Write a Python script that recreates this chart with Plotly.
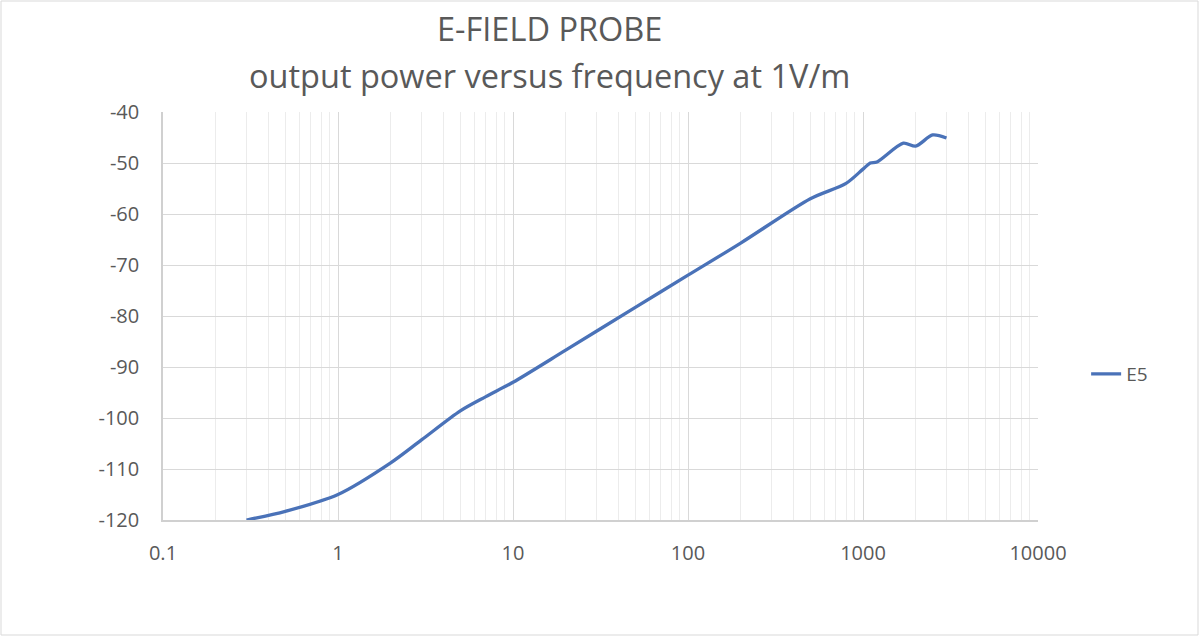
import plotly.graph_objects as go

freq = [0.3, 0.5, 1, 2, 3, 5, 7, 10, 20, 50, 100, 200, 500, 800, 1000, 1100, 1200, 1700, 2000, 2500, 3000]
power = [-120, -118.3, -115, -108.8, -104.3, -98.6, -95.8, -93, -86.7, -78.3, -72, -65.7, -57, -54, -51.2, -50, -49.8, -46.1, -46.7, -44.5, -45.1]

x_ticks = [0.1, 1, 10, 100, 1000, 10000]
x_labels = ["0.1", "1", "10", "100", "1000", "10000"]
y_ticks = [-120, -110, -100, -90, -80, -70, -60, -50, -40]
y_labels = ["-120", "-110", "-100", "-90", "-80", "-70", "-60", "-50", "-40"]

fig = go.Figure()
fig.add_trace(go.Scatter(
    x=freq, y=power, mode="lines", name="E5",
    line=dict(color="#4a72b8", width=3.3, shape="spline", smoothing=0.8),
))

font = "Open Sans, Lato, sans-serif"
grey = "#595959"
fig.update_layout(
    width=1200, height=636,
    margin=dict(l=163, r=162, t=112, b=116),
    paper_bgcolor="white", plot_bgcolor="white",
    showlegend=True,
    legend=dict(x=1.055, y=0.358, xanchor="left", yanchor="middle",
                font=dict(family=font, size=19, color=grey),
                bgcolor="rgba(0,0,0,0)"),
    xaxis=dict(
        type="log", range=[-1, 4], tickvals=x_ticks, ticktext=x_labels,
        showgrid=True, gridcolor="#d9d9d9", gridwidth=1,
        minor=dict(showgrid=True, gridcolor="#ececec", gridwidth=1, dtick="D1", ticks=""),
        showline=True, linecolor="#d0d0d0", linewidth=1.5,
        ticks="", zeroline=False, ticklabelstandoff=14,
        tickfont=dict(family=font, size=20, color=grey),
    ),
    yaxis=dict(
        range=[-120, -40], tickvals=y_ticks, ticktext=y_labels,
        showgrid=True, gridcolor="#d9d9d9", gridwidth=1,
        showline=True, linecolor="#d0d0d0", linewidth=1.5,
        zeroline=False, ticks="",
        tickfont=dict(family=font, size=20, color=grey),
        ticklabelstandoff=18,
    ),
    annotations=[
        dict(text="E-FIELD PROBE", x=(549 - 163) / 875, y=(520 - 28) / 408, xref="paper", yref="paper",
             xanchor="center", yanchor="middle", showarrow=False,
             font=dict(family=font, size=32.5, color=grey)),
        dict(text="output power versus frequency at 1V/m", x=(549 - 163) / 875, y=(520 - 75) / 408,
             xref="paper", yref="paper", xanchor="center", yanchor="middle", showarrow=False,
             font=dict(family=font, size=32.5, color=grey)),
    ],
)
fig.add_shape(type="rect", xref="paper", yref="paper",
              x0=-162/875, x1=1035/875, y0=-115/408, y1=519/408,
              line=dict(color="#d9d9d9", width=1), layer="below")
fig.write_html("out.html")
